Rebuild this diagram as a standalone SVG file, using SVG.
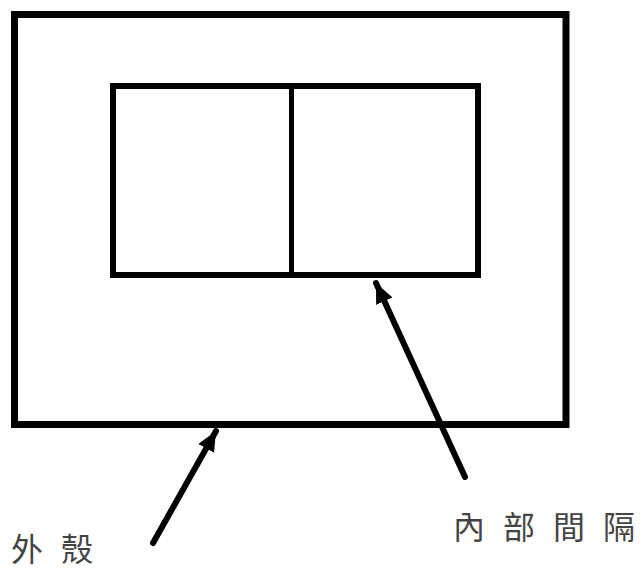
<svg xmlns="http://www.w3.org/2000/svg" width="644" height="570" viewBox="0 0 644 570">
  <defs>
    <style>
      .box { fill: none; stroke: #000; stroke-width: 7; }
      .inner { fill: none; stroke: #000; stroke-width: 6; }
      .div { stroke: #000; stroke-width: 5; }
      .conn { stroke: #000; stroke-width: 6; fill: none; stroke-linecap: round; }
      .lbl { font-family: "Noto Sans CJK TC", "Noto Sans CJK SC", sans-serif; font-size: 32px; fill: #444; }
    </style>
    <marker id="ah" markerUnits="userSpaceOnUse" markerWidth="22" markerHeight="20" refX="20" refY="10" orient="auto">
      <path d="M0,1 L20,10 L0,19 Z" fill="#000"/>
    </marker>
  </defs>
  <rect width="644" height="570" fill="#fff"/>
  <g id="shell">
    <rect class="box" x="14.5" y="14.5" width="551.5" height="410"/>
  </g>
  <g id="partition">
    <rect class="inner" x="113" y="86" width="365" height="189"/>
    <line class="div" x1="291.5" y1="86" x2="291.5" y2="275"/>
  </g>
  <g id="connectors">
    <line class="conn" x1="153" y1="543" x2="216" y2="431" marker-end="url(#ah)"/>
    <line class="conn" x1="465" y1="477" x2="376" y2="283" marker-end="url(#ah)"/>
  </g>
  <g id="label-shell">
    <text class="lbl" y="561"><tspan x="11">外</tspan><tspan x="61">殼</tspan></text>
  </g>
  <g id="label-partition">
    <text class="lbl" y="539"><tspan x="453">內</tspan><tspan x="503">部</tspan><tspan x="553">間</tspan><tspan x="603">隔</tspan></text>
  </g>
</svg>
